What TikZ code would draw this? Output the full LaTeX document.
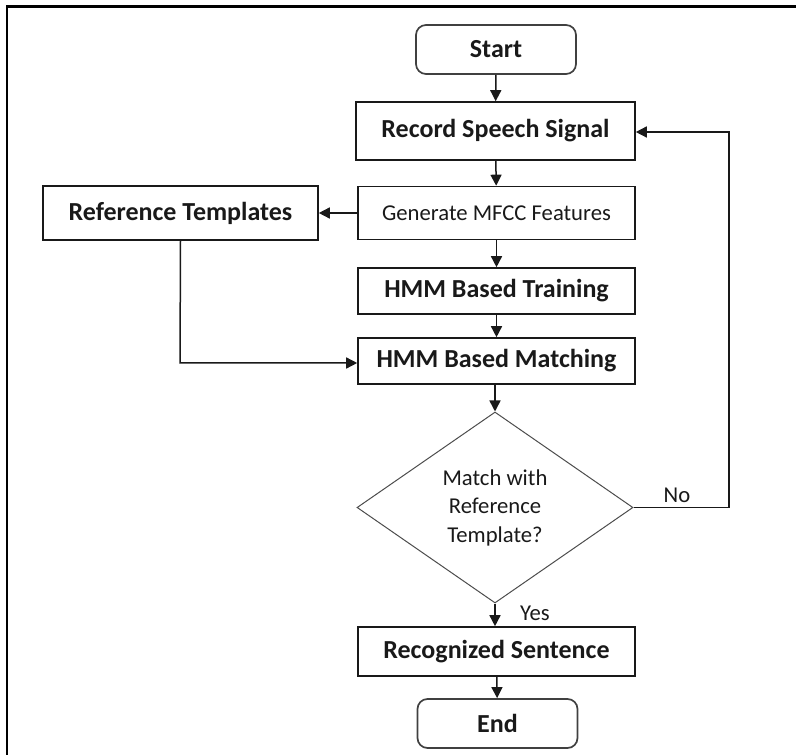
\documentclass[tikz,border=0pt]{standalone}
\usepackage{fontspec}
\setmainfont{Carlito}
\usetikzlibrary{arrows.meta,shapes.geometric}
\begin{document}
\begin{tikzpicture}[x=0.75pt,y=-0.75pt,
  boldtxt/.style={font=\fontsize{19.5pt}{23pt}\selectfont\bfseries},
  plaintxt/.style={font=\fontsize{17pt}{21.4pt}\selectfont},
  procbox/.style={draw=black!90, line width=1.6*0.75pt, inner sep=0pt, text=black!90},
  termbox/.style={draw=black!75, line width=1.7*0.75pt, rounded corners=10*0.75pt, inner sep=0pt,
     minimum width=160*0.75pt, minimum height=49*0.75pt, boldtxt, text=black!90},
  decbox/.style={draw=black!70, shape=diamond, line width=1.0*0.75pt, inner sep=0pt,
     minimum width=276*0.75pt, minimum height=191*0.75pt, plaintxt, text=black!90, align=center},
  arr/.style={draw=black!90, line width=1.5*0.75pt, -{Triangle[length=11*0.75pt,width=11*0.75pt]}},
  lbl/.style={plaintxt, text=black!90, inner sep=0pt}
]
\useasboundingbox (0,0) rectangle (796,755);
\draw[line width=2.4*0.75pt] (7,756) -- (7,6.6) -- (797,6.6);

\node[termbox] (start) at (496,49.5) {Start};
\node[procbox, boldtxt, minimum width=279*0.75pt, minimum height=58*0.75pt] (rec) at (495.5,131) {Record Speech Signal};
\node[procbox, plaintxt, minimum width=277*0.75pt, minimum height=53*0.75pt] (mfcc) at (496.5,213) {Generate MFCC Features};
\node[procbox, boldtxt, minimum width=275*0.75pt, minimum height=54*0.75pt] (ref) at (180.5,213) {Reference Templates};
\node[procbox, boldtxt, minimum width=277*0.75pt, minimum height=46*0.75pt] (train) at (496.5,291) {HMM Based Training};
\node[procbox, boldtxt, minimum width=277*0.75pt, minimum height=46*0.75pt] (match) at (496.5,361) {HMM Based Matching};
\node[decbox] (dec) at (495,507.5) {Match with\\Reference\\Template?};
\node[procbox, boldtxt, minimum width=277*0.75pt, minimum height=49*0.75pt] (recog) at (496.5,651.5) {Recognized Sentence};
\node[termbox] (end) at (497.5,723.5) {End};

\coordinate (refturn) at (180,363);
\coordinate (noA) at (729,507.5);
\coordinate (noB) at (729,132);

\draw[arr] (start) -- (rec);
\draw[arr] (rec) -- (mfcc);
\draw[arr] (mfcc) -- (ref);
\draw[arr] (mfcc.south -| train) -- (train);
\draw[arr] (train) -- (match);
\draw[arr] (ref.south) -- (refturn) -- (match.west |- refturn);
\draw[arr] (match.south -| dec) -- (dec.north);
\draw[arr] (dec.east) -- (noA) -- (noB) -- (rec.east |- noB);
\draw[arr] (dec.south) -- (recog.north -| dec);
\draw[arr] (recog) -- (end);

\node[lbl] (no) at (677,495) {No};
\node[lbl] (yes) at (535,613) {Yes};
\end{tikzpicture}
\end{document}
